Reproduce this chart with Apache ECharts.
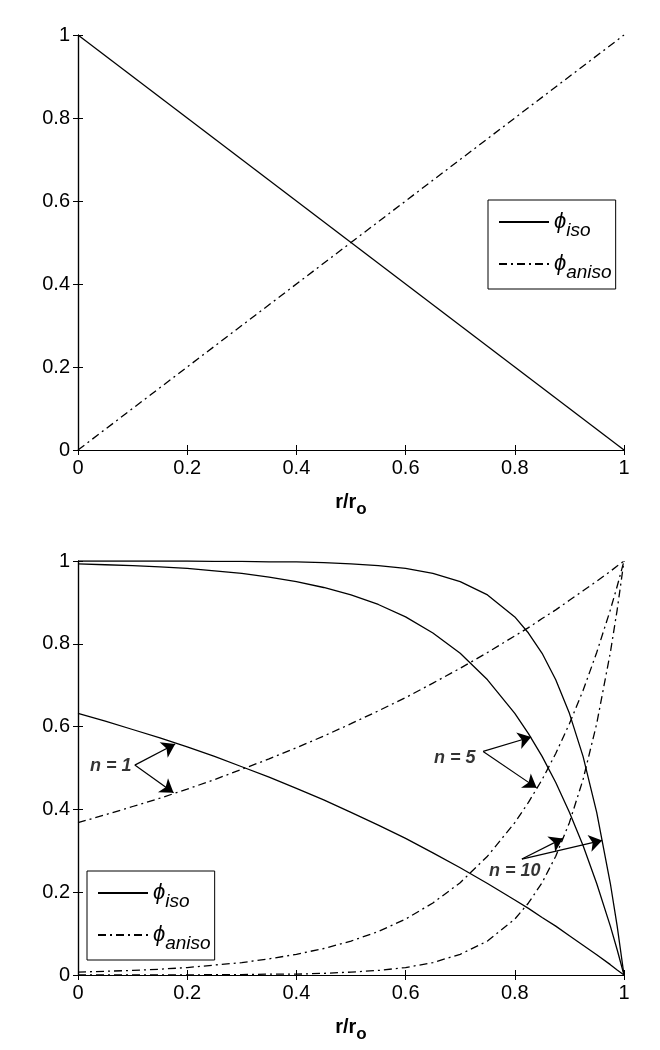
<!DOCTYPE html>
<html>
<head>
<meta charset="utf-8">
<script src="https://cdn.jsdelivr.net/npm/echarts@6/dist/echarts.min.js"></script>
<style>
  html, body { margin: 0; padding: 0; background: #fff; }
  #main { width: 660px; height: 1050px; }
</style>
</head>
<body>
<div id="main"></div>
<script>
// top panel: linear profiles
var topX = [0, 1];
var topIso = [1, 0];
var topAniso = [0, 1];

// bottom panel: shared x grid (r/ro)
var xs = [0, 0.05, 0.1, 0.15, 0.2, 0.25, 0.3, 0.35, 0.4, 0.45, 0.5, 0.55, 0.6, 0.65, 0.7,
  0.75, 0.8, 0.825, 0.85, 0.875, 0.9, 0.925, 0.95, 0.975, 0.9875, 1];
var iso1 = [0.632, 0.613, 0.593, 0.573, 0.551, 0.528, 0.503, 0.478, 0.451, 0.423, 0.393, 0.362, 0.330,
  0.295, 0.259, 0.221, 0.181, 0.161, 0.139, 0.118, 0.095, 0.072, 0.049, 0.025, 0.012, 0];
var aniso1 = [0.368, 0.387, 0.407, 0.427, 0.449, 0.472, 0.497, 0.522, 0.549, 0.577, 0.607, 0.638, 0.670,
  0.705, 0.741, 0.779, 0.819, 0.839, 0.861, 0.882, 0.905, 0.928, 0.951, 0.975, 0.988, 1];
var iso5 = [0.993, 0.991, 0.989, 0.986, 0.982, 0.976, 0.970, 0.961, 0.950, 0.936, 0.918, 0.895, 0.865,
  0.826, 0.777, 0.713, 0.632, 0.583, 0.528, 0.465, 0.393, 0.313, 0.221, 0.118, 0.061, 0];
var aniso5 = [0.007, 0.009, 0.011, 0.014, 0.018, 0.024, 0.030, 0.039, 0.050, 0.064, 0.082, 0.105, 0.135,
  0.174, 0.223, 0.287, 0.368, 0.417, 0.472, 0.535, 0.607, 0.687, 0.779, 0.882, 0.939, 1];
var iso10 = [1, 1, 1, 1, 1, 0.999, 0.999, 0.998, 0.998, 0.996, 0.993, 0.989, 0.982,
  0.970, 0.950, 0.918, 0.865, 0.826, 0.777, 0.713, 0.632, 0.528, 0.393, 0.221, 0.118, 0];
var aniso10 = [0, 0, 0, 0, 0, 0.001, 0.001, 0.002, 0.002, 0.004, 0.007, 0.011, 0.018,
  0.030, 0.050, 0.082, 0.135, 0.174, 0.223, 0.287, 0.368, 0.472, 0.607, 0.779, 0.882, 1];

// annotations (data coords)
var noteText = ["n = 1", "n = 5", "n = 10"];
var notePos = [[0.06, 0.505], [0.69, 0.524], [0.80, 0.25]];
var arrowTail = [[0.104, 0.507], [0.104, 0.507], [0.742, 0.540], [0.742, 0.540], [0.813, 0.28], [0.813, 0.28]];
var arrowHead = [[0.178, 0.558], [0.175, 0.44], [0.83, 0.575], [0.84, 0.452], [0.888, 0.33], [0.96, 0.325]];

var dashDot = [8, 4, 2, 4];
var font = "Liberation Sans, Arial, sans-serif";

var pairs = (a, b) => a.map((v, i) => [v, b[i]]);

var axisCommon = {
  type: "value", min: 0, max: 1, interval: 0.2,
  axisLine: { show: true, lineStyle: { color: "#000", width: 1.2 } },
  axisTick: { show: true, inside: true, length: 5, lineStyle: { color: "#000" } },
  splitLine: { show: false }
};
var tickLabel = {
  show: true, color: "#000", fontSize: 20, fontFamily: font, margin: 8,
  formatter: v => String(Math.round(v * 10) / 10)
};
var noLabel = { show: false };

var xAxes = [];
var yAxes = [];
[0, 1].forEach(g => {
  xAxes.push(Object.assign({}, axisCommon, {
    gridIndex: g, position: "bottom", axisLabel: tickLabel,
    name: "r/r{sub|o}", nameLocation: "middle", nameGap: 37,
    nameTextStyle: {
      color: "#000", fontSize: 20, fontWeight: "bold", fontFamily: font,
      rich: { sub: { fontSize: 17, fontWeight: "bold", fontFamily: font, color: "#000", padding: [14, 0, 0, 0] } }
    }
  }));
  xAxes.push(Object.assign({}, axisCommon, { gridIndex: g, position: "top", axisLabel: noLabel }));
  yAxes.push(Object.assign({}, axisCommon, { gridIndex: g, position: "left", axisLabel: tickLabel }));
  yAxes.push(Object.assign({}, axisCommon, { gridIndex: g, position: "right", axisLabel: noLabel }));
});

var solid = { color: "#000", width: 1.3, type: "solid" };
var dashed = { color: "#000", width: 1.3, type: dashDot };
var mk = (name, data, xi, yi, ls) => ({
  name: name, type: "line", xAxisIndex: xi, yAxisIndex: yi, data: data,
  showSymbol: false, symbol: "none", lineStyle: ls, itemStyle: { color: "#000" },
  animation: false, silent: true
});

var series = [
  mk("iso", pairs(topX, topIso), 0, 0, solid),
  mk("aniso", pairs(topX, topAniso), 0, 0, dashed),
  mk("iso", pairs(xs, iso1), 2, 2, solid),
  mk("aniso", pairs(xs, aniso1), 2, 2, dashed),
  mk("iso", pairs(xs, iso5), 2, 2, solid),
  mk("aniso", pairs(xs, aniso5), 2, 2, dashed),
  mk("iso", pairs(xs, iso10), 2, 2, solid),
  mk("aniso", pairs(xs, aniso10), 2, 2, dashed),
  {
    name: "notes", type: "scatter", xAxisIndex: 2, yAxisIndex: 2,
    data: notePos.map((p, i) => [p[0], p[1], noteText[i]]),
    symbolSize: 1, itemStyle: { color: "rgba(0,0,0,0)" },
    animation: false, silent: true,
    label: {
      show: true, position: "inside", formatter: p => p.data[2],
      color: "#000", fontSize: 18, fontWeight: "bold", fontStyle: "italic", fontFamily: font
    }
  },
  {
    name: "arrows", type: "line", xAxisIndex: 2, yAxisIndex: 2,
    data: arrowHead, symbol: "none", showSymbol: false,
    lineStyle: { width: 0, opacity: 0 }, itemStyle: { color: "#000" },
    animation: false, silent: true,
    markLine: {
      silent: true, animation: false,
      symbol: ["none", "arrow"], symbolSize: 13,
      label: { show: false },
      itemStyle: { color: "#000" },
      lineStyle: { color: "#000", width: 1.2, type: "solid", opacity: 1 },
      emphasis: { disabled: true },
      data: arrowTail.map((t, i) => [{ coord: t }, { coord: arrowHead[i] }])
    }
  }
];

var legendRich = {
  phi: { fontSize: 22, fontStyle: "italic", fontFamily: font, color: "#000", verticalAlign: "middle", lineHeight: 36 },
  sub: { fontSize: 19, fontStyle: "italic", fontFamily: font, color: "#000", verticalAlign: "bottom", lineHeight: 18 }
};
var legendBase = {
  data: ["iso", "aniso"], orient: "vertical", itemWidth: 50, itemHeight: 14, itemGap: 13,
  borderColor: "#000", borderWidth: 1, borderRadius: 0, padding: [11, 4, 7, 10],
  backgroundColor: "#fff", selectedMode: false,
  itemStyle: { opacity: 0 },
  formatter: n => "{phi|\u03d5}{sub|" + n + "}",
  textStyle: { rich: legendRich }
};

var option = {
  backgroundColor: "#fff",
  animation: false,
  grid: [
    { left: 78, top: 35, width: 546, height: 415 },
    { left: 78, top: 561, width: 546, height: 414 }
  ],
  xAxis: xAxes,
  yAxis: yAxes,
  legend: [
    Object.assign({}, legendBase, { left: 488, top: 200 }),
    Object.assign({}, legendBase, { left: 87, top: 871 })
  ],
  series: series
};

var myChart = echarts.init(document.getElementById("main"));
myChart.setOption(option);
</script>
</body>
</html>
